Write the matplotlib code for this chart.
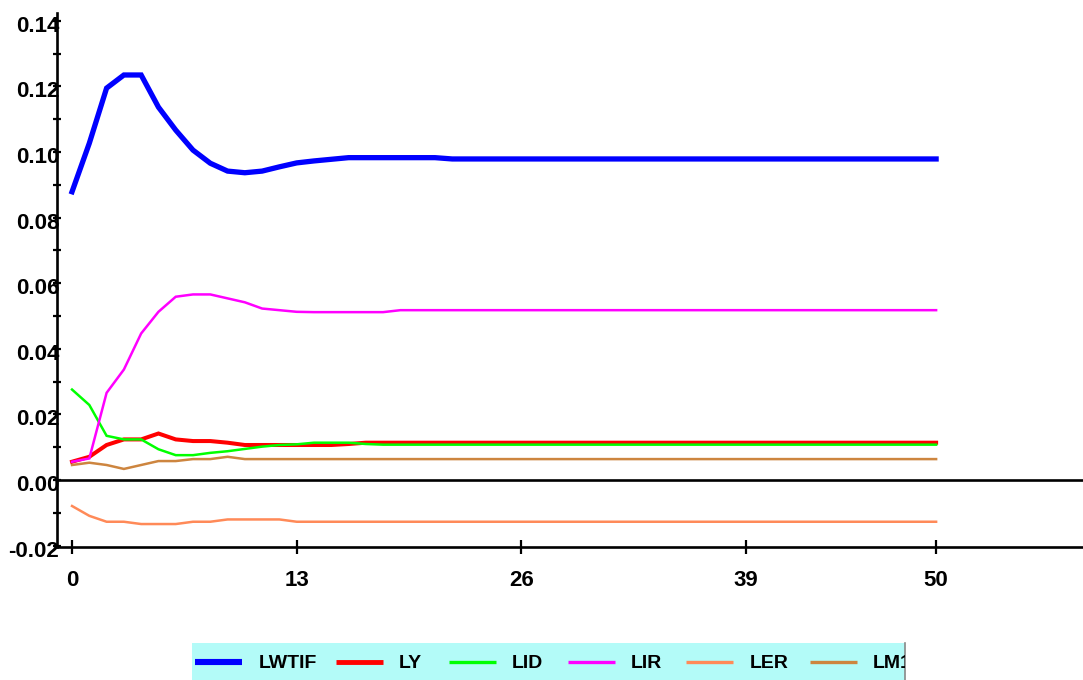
import matplotlib
matplotlib.use("Agg")
import matplotlib.pyplot as plt
from matplotlib.ticker import MultipleLocator
from matplotlib.transforms import ScaledTranslation

# Impulse responses over 50 periods
periods = list(range(51))
x_ticks = [0, 13, 26, 39, 50]
y_ticks = [-0.02, 0.0, 0.02, 0.04, 0.06, 0.08, 0.10, 0.12, 0.14]
y_tick_labels = ["-0.02", "0.00", "0.02", "0.04", "0.06", "0.08", "0.10", "0.12", "0.14"]

LWTIF = [0.0879, 0.1027, 0.1195, 0.1235, 0.1235, 0.1137, 0.1067, 0.1006, 0.0966, 0.0942,
         0.0937, 0.0942, 0.0955, 0.0967, 0.0973, 0.0978, 0.0983, 0.0983, 0.0983, 0.0983,
         0.0983, 0.0983, 0.0979, 0.0979, 0.0979, 0.0979, 0.0979, 0.0979, 0.0979, 0.0979,
         0.0979, 0.0979, 0.0979, 0.0979, 0.0979, 0.0979, 0.0979, 0.0979, 0.0979, 0.0979,
         0.0979, 0.0979, 0.0979, 0.0979, 0.0979, 0.0979, 0.0979, 0.0979, 0.0979, 0.0979,
         0.0979]
LY = [0.0056, 0.0071, 0.0107, 0.0124, 0.0124, 0.0142, 0.0124, 0.0119, 0.0119, 0.0114,
      0.0107, 0.0107, 0.0107, 0.0107, 0.0107, 0.0107, 0.0110, 0.0114, 0.0114, 0.0114,
      0.0114, 0.0114, 0.0114, 0.0114, 0.0114, 0.0114, 0.0114, 0.0114, 0.0114, 0.0114,
      0.0114, 0.0114, 0.0114, 0.0114, 0.0114, 0.0114, 0.0114, 0.0114, 0.0114, 0.0114,
      0.0114, 0.0114, 0.0114, 0.0114, 0.0114, 0.0114, 0.0114, 0.0114, 0.0114, 0.0114,
      0.0114]
LID = [0.0276, 0.0229, 0.0135, 0.0124, 0.0124, 0.0094, 0.0076, 0.0076, 0.0083, 0.0088,
       0.0095, 0.0102, 0.0107, 0.0109, 0.0114, 0.0114, 0.0114, 0.0110, 0.0108, 0.0108,
       0.0108, 0.0108, 0.0108, 0.0108, 0.0108, 0.0108, 0.0108, 0.0108, 0.0108, 0.0108,
       0.0108, 0.0108, 0.0108, 0.0108, 0.0108, 0.0108, 0.0108, 0.0108, 0.0108, 0.0108,
       0.0108, 0.0108, 0.0108, 0.0108, 0.0108, 0.0108, 0.0108, 0.0108, 0.0108, 0.0108,
       0.0108]
LIR = [0.0056, 0.0066, 0.0266, 0.0337, 0.0447, 0.0513, 0.0559, 0.0566, 0.0566, 0.0554,
       0.0542, 0.0523, 0.0518, 0.0513, 0.0512, 0.0512, 0.0512, 0.0512, 0.0512, 0.0518,
       0.0518, 0.0518, 0.0518, 0.0518, 0.0518, 0.0518, 0.0518, 0.0518, 0.0518, 0.0518,
       0.0518, 0.0518, 0.0518, 0.0518, 0.0518, 0.0518, 0.0518, 0.0518, 0.0518, 0.0518,
       0.0518, 0.0518, 0.0518, 0.0518, 0.0518, 0.0518, 0.0518, 0.0518, 0.0518, 0.0518,
       0.0518]
LER = [-0.0079, -0.0109, -0.0127, -0.0127, -0.0134, -0.0134, -0.0134, -0.0127, -0.0127, -0.0120,
       -0.0120, -0.0120, -0.0120, -0.0127, -0.0127, -0.0127, -0.0127, -0.0127, -0.0127, -0.0127,
       -0.0127, -0.0127, -0.0127, -0.0127, -0.0127, -0.0127, -0.0127, -0.0127, -0.0127, -0.0127,
       -0.0127, -0.0127, -0.0127, -0.0127, -0.0127, -0.0127, -0.0127, -0.0127, -0.0127, -0.0127,
       -0.0127, -0.0127, -0.0127, -0.0127, -0.0127, -0.0127, -0.0127, -0.0127, -0.0127, -0.0127,
       -0.0127]
LM1 = [0.0046, 0.0053, 0.0046, 0.0034, 0.0046, 0.0058, 0.0058, 0.0064, 0.0064, 0.0071,
       0.0064, 0.0064, 0.0064, 0.0064, 0.0064, 0.0064, 0.0064, 0.0064, 0.0064, 0.0064,
       0.0064, 0.0064, 0.0064, 0.0064, 0.0064, 0.0064, 0.0064, 0.0064, 0.0064, 0.0064,
       0.0064, 0.0064, 0.0064, 0.0064, 0.0064, 0.0064, 0.0064, 0.0064, 0.0064, 0.0064,
       0.0064, 0.0064, 0.0064, 0.0064, 0.0064, 0.0064, 0.0064, 0.0064, 0.0064, 0.0064,
       0.0064]

series_names = ["LWTIF", "LY", "LID", "LIR", "LER", "LM1"]
series_values = [LWTIF, LY, LID, LIR, LER, LM1]
colors = ["#0000ff", "#ff0000", "#00ff00", "#ff00ff", "#ff8a58", "#cd853f"]
widths = [3.8, 2.9, 1.8, 1.8, 1.8, 1.8]

FONT = ["Liberation Sans", "DejaVu Sans"]
plt.rcParams["font.family"] = FONT
plt.rcParams["font.weight"] = "bold"

W, H = 1083, 680
fig = plt.figure(figsize=(W / 100, H / 100), dpi=100)
ax = fig.add_axes([57 / W, (H - 547) / H, 1 - 57 / W, (547 - 13) / H])

for name, vals, c, lw in zip(series_names, series_values, colors, widths):
    ax.plot(periods, vals, color=c, lw=lw, solid_joinstyle="miter", zorder=3)

ax.axhline(0, color="black", lw=1.9, zorder=2)

ax.set_xlim(-0.87, 58.5)
ax.set_ylim(-0.0204, 0.1424)

for side in ("top", "right"):
    ax.spines[side].set_visible(False)
for side in ("left", "bottom"):
    ax.spines[side].set_linewidth(1.9)

ax.set_xticks(x_ticks)
ax.set_xticklabels([str(v) for v in x_ticks])
ax.yaxis.set_minor_locator(MultipleLocator(0.01))
ax.set_yticks(y_ticks)
ax.set_yticklabels(y_tick_labels)

ax.tick_params(axis="y", which="both", direction="inout", length=5.8, width=1.6,
               pad=-4.6, labelsize=16)
ax.tick_params(axis="x", which="major", direction="inout", length=9.4, width=1.6,
               pad=12.0, labelsize=16)
shift_down = ScaledTranslation(0, -3 / 100, fig.dpi_scale_trans)
for lbl in ax.get_yticklabels():
    lbl.set_transform(lbl.get_transform() + shift_down)
for lbl in ax.get_xticklabels() + ax.get_yticklabels():
    lbl.set_fontweight("bold")
    lbl.set_zorder(1)

# Legend strip along the bottom, clipped on its right edge
lx0, lx1, ly0, ly1 = 192, 905, 643, 680
lax = fig.add_axes([lx0 / W, (H - ly1) / H, (lx1 - lx0) / W, (ly1 - ly0) / H])
lax.set_facecolor("#b3fbf8")
lax.set_xlim(lx0, lx1)
lax.set_ylim(ly1, ly0)
lax.set_xticks([])
lax.set_yticks([])
for side in ("top", "bottom", "left"):
    lax.spines[side].set_visible(False)
lax.spines["right"].set_color("#888888")
lax.spines["right"].set_linewidth(1.2)

handle_x = [195, 336, 449, 568, 686, 810]
text_x = [259, 399, 512, 631, 750, 873]
yc = 662
for name, c, lw, hx, tx in zip(series_names, colors, widths, handle_x, text_x):
    lax.plot([hx, hx + 47], [yc, yc], color=c, lw=lw + 0.6, solid_capstyle="butt",
             clip_on=True)
    lax.text(tx, yc + 1, name, fontsize=14, fontweight="bold", ha="left",
             va="center", clip_on=True)

fig.savefig("out.png", dpi=100)
